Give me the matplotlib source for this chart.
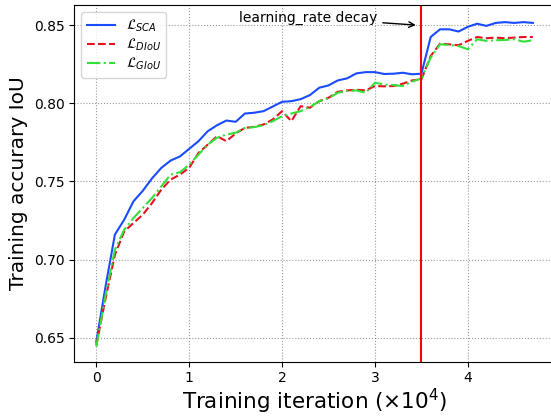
import matplotlib
matplotlib.use("Agg")
import matplotlib.pyplot as plt

# === DATA ===
iterations = [i / 10 for i in range(48)]  # x10^4

acc_sca = [0.6474, 0.683, 0.716, 0.7255, 0.7373, 0.744, 0.752, 0.7587, 0.7634, 0.766,
           0.7709, 0.7758, 0.7822, 0.786, 0.789, 0.7882, 0.7935, 0.794, 0.795, 0.798,
           0.801, 0.8014, 0.8027, 0.8053, 0.810, 0.8115, 0.8147, 0.816, 0.8192, 0.820,
           0.820, 0.8188, 0.819, 0.8196, 0.8186, 0.819, 0.8425, 0.8474, 0.8474, 0.846,
           0.849, 0.851, 0.8496, 0.8515, 0.852, 0.8515, 0.852, 0.8515]

acc_diou = [0.6453, 0.6753, 0.703, 0.718, 0.7234, 0.7287, 0.7362, 0.7448, 0.7512, 0.7544,
            0.7587, 0.7683, 0.7736, 0.779, 0.7758, 0.7807, 0.7843, 0.785, 0.7865, 0.7897,
            0.795, 0.7886, 0.7982, 0.7972, 0.8014, 0.8036, 0.8074, 0.8083, 0.8087, 0.8083,
            0.8111, 0.8109, 0.8111, 0.8126, 0.8147, 0.8153, 0.8303, 0.8382, 0.8378, 0.8372,
            0.840, 0.8425, 0.8417, 0.8421, 0.8417, 0.8421, 0.8425, 0.8425]

acc_giou = [0.6442, 0.6774, 0.7063, 0.7191, 0.7266, 0.733, 0.7394, 0.7469, 0.7544, 0.7559,
            0.7608, 0.7672, 0.7736, 0.778, 0.780, 0.7812, 0.7843, 0.7848, 0.786, 0.7886,
            0.7918, 0.7935, 0.795, 0.7976, 0.8014, 0.8032, 0.8068, 0.8079, 0.8083, 0.8068,
            0.8132, 0.8121, 0.8117, 0.8111, 0.8139, 0.816, 0.8293, 0.8378, 0.8374, 0.8367,
            0.8346, 0.841, 0.840, 0.8404, 0.8406, 0.841, 0.8395, 0.8404]

lr_decay_at = 3.5
# =====================

DPI = 100
fig = plt.figure(figsize=(551 / DPI, 417 / DPI), dpi=DPI)
ax = fig.add_axes([0.1352, 0.1326, 0.8715, 0.8555])

ax.plot(iterations, acc_sca, color="#1a4cff", lw=1.5, ls="-", label=r"$\mathcal{L}_{SCA}$")
ax.plot(iterations, acc_diou, color="#e8101e", lw=1.5, ls="--", label=r"$\mathcal{L}_{DIoU}$")
ax.plot(iterations, acc_giou, color="#33e03a", lw=1.5, ls="-.", label=r"$\mathcal{L}_{GIoU}$")

ax.axvline(lr_decay_at, color="red", lw=1.5)
ax.annotate("learning_rate decay", xy=(lr_decay_at - 0.03, 0.85), xytext=(2.28, 0.8549),
            ha="center", va="center", fontsize=10,
            arrowprops=dict(arrowstyle="->", color="black", lw=1))

ax.set_xlim(-0.235, 4.935)
ax.set_ylim(0.6346, 0.863)
ax.set_xticks([0, 1, 2, 3, 4])
ax.set_yticks([0.65, 0.70, 0.75, 0.80, 0.85])
ax.tick_params(labelsize=10)
ax.grid(True, linestyle=":", color="gray", alpha=0.8)

ax.set_xlabel(r"Training iteration ($\times 10^4$)", fontsize=15.5, labelpad=1)
ax.set_ylabel("Training accurary IoU", fontsize=14.5)
ax.legend(loc="upper left", fontsize=10, labelspacing=0.2)

fig.savefig("out.png", dpi=DPI)
